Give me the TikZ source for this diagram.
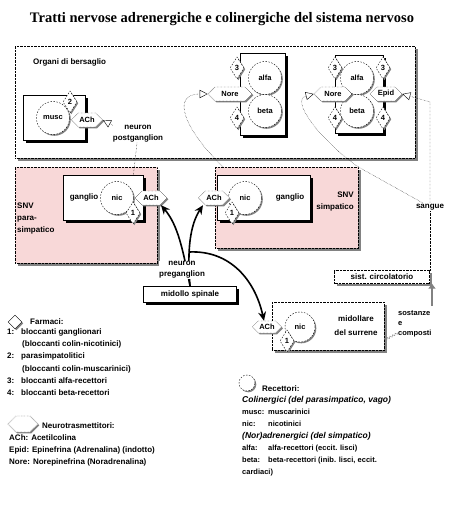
\documentclass[tikz,border=0pt]{standalone}
\usepackage{fontspec}
\setmainfont{Liberation Sans}
\newfontfamily\titlefont{Liberation Serif}
\usetikzlibrary{shapes.geometric, shapes.symbols, arrows.meta, shadows, decorations.pathmorphing}

\definecolor{snvpink}{RGB}{248,216,216}
\definecolor{ombra}{RGB}{130,130,130}

\tikzset{
  testo/.style={font=\bfseries\fontsize{8}{12}\selectfont, inner sep=0pt},
  area/.style={draw=black, densely dotted, fill=white, inner sep=0pt,
    drop shadow={shadow xshift=2.5pt, shadow yshift=-2.5pt, fill=ombra, opacity=1}},
  organo/.style={draw=black, thin, fill=white, inner sep=0pt,
    drop shadow={shadow xshift=2.5pt, shadow yshift=-2.5pt, fill=black, opacity=1}},
  recettore/.style={circle, draw, dash pattern=on 1.5pt off 1.5pt, fill=white, minimum size=33pt, inner sep=0pt,
    font=\bfseries\fontsize{7.5}{9}\selectfont,
    drop shadow={shadow xshift=1.3pt, shadow yshift=-1.3pt, fill=ombra, opacity=1}},
  farmaco/.style={diamond, draw, dash pattern=on 1.5pt off 1.5pt, fill=white, minimum width=14pt, minimum height=22pt, inner sep=0pt,
    font=\bfseries\fontsize{7.5}{9}\selectfont,
    drop shadow={shadow xshift=1.3pt, shadow yshift=-1.3pt, fill=ombra, opacity=1}},
  trasm/.style={signal, signal to=west and east, draw, densely dotted, fill=white, minimum width=30pt, minimum height=14pt, inner sep=1pt,
    font=\bfseries\fontsize{7.5}{9}\selectfont,
    drop shadow={shadow xshift=1.3pt, shadow yshift=-1.3pt, fill=ombra, opacity=1}},
  nervo/.style={densely dotted, thin},
  punta/.style={-{Triangle[open, length=8pt, width=8pt]}},
  pregang/.style={line width=1.6pt, -{Stealth[length=9pt, width=8pt]}},
}

\begin{document}
\begin{tikzpicture}[x=1pt, y=1pt]
    \useasboundingbox (0,0) rectangle (453,-518);

    % Titolo
    \node[inner sep=0pt, font=\titlefont\bfseries\fontsize{14.5}{16}\selectfont] (titolo) at (222,-19)
        {Tratti nervose adrenergiche e colinergiche del sistema nervoso};

    % Organi di bersaglio
    \node[area, anchor=north west, minimum width=400pt, minimum height=112pt] (bersaglio) at (15,-46) {};
    \node[testo, anchor=west] (organi) at (33,-62) {Organi di bersaglio};

    % organo colinergico
    \node[organo, anchor=north west, minimum width=62pt, minimum height=45pt] (orgM) at (23,-95) {};
    \node[recettore] (musc) at (53,-118) {musc};
    \node[farmaco] (f2) at (70,-102) {2};
    \node[trasm, minimum width=30pt] (achM) at (87,-120) {ACh};
    \node[testo, align=center] (postlab) at (138,-134) {neuron\\[-1pt]postganglion};

    % organo adrenergico
    \node[organo, anchor=north west, minimum width=45pt, minimum height=82pt] (orgA) at (240,-53) {};
    \node[recettore] (alfaA) at (265,-78) {alfa};
    \node[recettore] (betaA) at (265,-111) {beta};
    \node[farmaco] (f3A) at (237,-68) {3};
    \node[farmaco] (f4A) at (237,-118) {4};
    \node[trasm, minimum width=44pt] (noreA) at (230,-94) {Nore};

    % organo adrenergico e Epid
    \node[organo, anchor=north west, minimum width=48pt, minimum height=78pt] (orgB) at (335,-55) {};
    \node[recettore] (alfaB) at (357,-78) {alfa};
    \node[recettore] (betaB) at (357,-111) {beta};
    \foreach \x/\s in {335/L, 383/R} {
        \node[farmaco] (f3\s) at (\x,-68) {3};
        \node[farmaco] (f4\s) at (\x,-118) {4};
    }
    \node[trasm, minimum width=38pt] (noreB) at (333,-94) {Nore};
    \node[trasm, minimum width=30pt] (epid) at (386,-94) {Epid};

    % SNV parasimpatico
    \node[area, fill=snvpink, anchor=north west, minimum width=142pt, minimum height=96pt] (para) at (15,-167) {};
    \node[testo, anchor=north west, align=left] (paralab) at (17,-203) {SNV\\para-\\simpatico};
    \node[organo, anchor=north west, minimum width=80pt, minimum height=45pt] (gangP) at (63,-175) {};
    \node[testo] (gP) at (84,-197) {ganglio};
    \node[recettore] (nicP) at (117,-198) {nic};
    \node[farmaco] (f1P) at (133,-213) {1};
    \node[trasm, minimum width=32pt] (achP) at (151,-198) {ACh};

    % SNV simpatico
    \node[area, fill=snvpink, anchor=north west, minimum width=143pt, minimum height=81pt] (simp) at (215,-167) {};
    \node[testo, anchor=north east, align=right] (simplab) at (354,-192) {SNV\\simpatico};
    \node[organo, anchor=north west, minimum width=93pt, minimum height=45pt] (gangS) at (217,-175) {};
    \node[testo] (gS) at (290,-197) {ganglio};
    \node[recettore] (nicS) at (245,-198) {nic};
    \node[farmaco] (f1S) at (232,-213) {1};
    \node[trasm, minimum width=26pt] (achS) at (214,-198) {ACh};

    % midollo spinale
    \node[organo, testo, minimum width=93pt, minimum height=16pt] (midollo) at (190,-294) {midollo spinale};

    % midollare del surrene
    \node[area, anchor=north west, minimum width=112pt, minimum height=48pt] (surrene) at (272,-302) {};
    \node[testo, align=center] (surlab) at (356,-326) {midollare\\[2pt]del surrene};
    \node[recettore, minimum size=30pt] (nicR) at (300,-327) {nic};
    \node[farmaco] (f1R) at (287,-341) {1};
    \node[trasm, minimum width=27pt, minimum height=12pt] (achR) at (267,-327) {ACh};

    % sistema circolatorio
    \node[area, testo, minimum width=95pt, minimum height=13pt] (circ) at (382,-277) {sist. circolatorio};
    \node[testo, fill=white, inner sep=1pt] (sangue) at (430,-207) {sangue};
    \node[testo, anchor=north west, align=left, font=\bfseries\fontsize{7.5}{10}\selectfont] (sost) at (398,-310) {sostanze\\e\\composti};
    \coordinate (uscita) at (432,-306);

    % neuroni postgangliari
    \draw[nervo] ([xshift=-10pt]gangP.north east) -- (postlab);
    \draw[nervo, punta] (postlab.north west) -- (achM.east);
    \draw[nervo, punta] ([xshift=8pt]simp.north west) .. controls (185,-130) and (170,-94) .. (noreA.west);
    \draw[nervo, punta] (simp.north east) .. controls (320,-140) and (290,-100) .. (noreB.west);
    \draw[nervo] (simp.north east) -- (sangue);
    \draw[nervo, punta] (sangue.north) -- (sangue.north |- 0,-102) -- (epid.east);
    \draw[nervo] (sangue.south) -- (sangue.south |- circ.north);

    % dal surrene al sangue
    \draw[ombra, decorate, decoration={zigzag, amplitude=1pt, segment length=3pt}]
        ([yshift=-14pt]surrene.east) -- ([yshift=4pt]sost.south west);
    \draw[ombra, line width=2pt, -{Triangle[length=5pt, width=7pt]}] (uscita) -- (uscita |- circ.south);

    % neuroni pregangliari
    \coordinate (bivio) at (189,-252);
    \draw[pregang] (midollo.north) .. controls (183,-250) and (178,-225) .. ([xshift=10pt]achP.south);
    \draw[pregang] (midollo.north) .. controls (187,-250) and (190,-225) .. ([xshift=-11pt]achS.south);
    \draw[pregang] (bivio) .. controls (230,-250) and (255,-280) .. ([xshift=-3pt]achR.north);
    \node[testo, align=center, fill=white, inner sep=0.5pt] (prelab) at (182,-270) {neuron\\[-1pt]preganglion};

    % Farmaci
    \node[farmaco, solid, minimum width=14pt, minimum height=14pt] (legF) at (15,-322) {};
    \node[testo, anchor=west] (legFlab) at (30,-322) {Farmaci:};
    \node[testo, anchor=north west, align=left] (legFtxt) at (7,-329) {%
        \makebox[14pt][l]{1:}bloccanti ganglionari\\
        \hspace*{15pt}(bloccanti colin-nicotinici)\\
        \makebox[14pt][l]{2:}parasimpatolitici\\
        \hspace*{15pt}(bloccanti colin-muscarinici)\\
        \makebox[14pt][l]{3:}bloccanti alfa-recettori\\
        \makebox[14pt][l]{4:}bloccanti beta-recettori};

    % Neurotrasmettitori
    \node[trasm, minimum width=30pt, minimum height=16pt] (legN) at (23,-424) {};
    \node[testo, anchor=west] (legNlab) at (42,-426) {Neurotrasmettitori:};
    \node[testo, anchor=north west, align=left] (legNtxt) at (9,-434) {%
        ACh: Acetilcolina\\
        Epid: Epinefrina (Adrenalina) (indotto)\\
        Nore: Norepinefrina (Noradrenalina)};

    % Recettori
    \node[recettore, minimum size=16pt] (legR) at (247,-383) {};
    \node[testo, anchor=west] (legRlab) at (262,-389) {Recettori:};
    \node[testo, anchor=north west, align=left, font=\bfseries\fontsize{7.5}{12}\selectfont] (legRtxt) at (242,-396) {%
        {\itshape\fontsize{8.5}{12}\selectfont Colinergici (del parasimpatico, vago)}\\
        \makebox[26pt][l]{musc:}muscarinici\\
        \makebox[26pt][l]{nic:}nicotinici\\
        {\itshape\fontsize{8.5}{12}\selectfont (Nor)adrenergici (del simpatico)}\\
        \makebox[26pt][l]{alfa:}alfa-recettori (eccit. lisci)\\
        \makebox[26pt][l]{beta:}beta-recettori (inib. lisci, eccit.\\
        cardiaci)};
\end{tikzpicture}
\end{document}
